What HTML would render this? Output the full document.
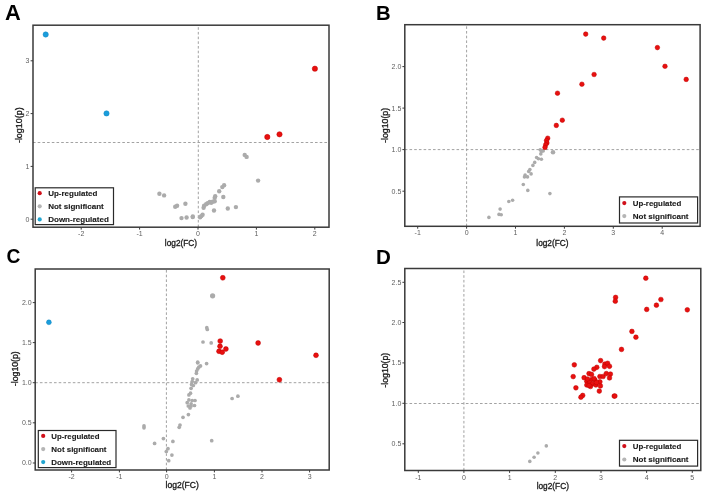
<!DOCTYPE html>
<html><head><meta charset="utf-8"><title>Volcano plots</title>
<style>
html,body{margin:0;padding:0;background:#fff;}
body{width:709px;height:496px;overflow:hidden;}
svg{display:block;filter:blur(0.4px);font-family:"Liberation Sans", sans-serif;}
</style></head>
<body>
<svg width="709" height="496" viewBox="0 0 709 496">
<rect width="709" height="496" fill="#fff"/>
<line x1="33" y1="142.5" x2="329" y2="142.5" stroke="#A2A2A2" stroke-width="1.0" stroke-dasharray="2.6 2.1"/>
<line x1="198.3" y1="227.2" x2="198.3" y2="25.2" stroke="#A2A2A2" stroke-width="1.0" stroke-dasharray="2.6 2.1"/>
<circle cx="159.4" cy="193.8" r="2.2" fill="#ABABAB"/>
<circle cx="164.1" cy="195.4" r="2.2" fill="#ABABAB"/>
<circle cx="175.2" cy="206.7" r="2.2" fill="#ABABAB"/>
<circle cx="177.1" cy="205.7" r="2.2" fill="#ABABAB"/>
<circle cx="185.4" cy="203.7" r="2.2" fill="#ABABAB"/>
<circle cx="181.5" cy="218.1" r="2.2" fill="#ABABAB"/>
<circle cx="186.6" cy="217.5" r="2.2" fill="#ABABAB"/>
<circle cx="192.7" cy="217.1" r="2.2" fill="#ABABAB"/>
<circle cx="192.8" cy="216.5" r="2.2" fill="#ABABAB"/>
<circle cx="200.1" cy="217.3" r="2.2" fill="#ABABAB"/>
<circle cx="201.3" cy="216.1" r="2.2" fill="#ABABAB"/>
<circle cx="202.6" cy="214.8" r="2.2" fill="#ABABAB"/>
<circle cx="203.6" cy="207.8" r="2.2" fill="#ABABAB"/>
<circle cx="204.1" cy="205.7" r="2.2" fill="#ABABAB"/>
<circle cx="206.1" cy="204.2" r="2.2" fill="#ABABAB"/>
<circle cx="207.6" cy="203.2" r="2.2" fill="#ABABAB"/>
<circle cx="209.7" cy="202" r="2.2" fill="#ABABAB"/>
<circle cx="211.2" cy="202.7" r="2.2" fill="#ABABAB"/>
<circle cx="212.7" cy="201.7" r="2.2" fill="#ABABAB"/>
<circle cx="214.7" cy="201.2" r="2.2" fill="#ABABAB"/>
<circle cx="215.2" cy="196.2" r="2.2" fill="#ABABAB"/>
<circle cx="214.7" cy="197.7" r="2.2" fill="#ABABAB"/>
<circle cx="214" cy="210.5" r="2.2" fill="#ABABAB"/>
<circle cx="219.2" cy="191.3" r="2.2" fill="#ABABAB"/>
<circle cx="222.3" cy="187.1" r="2.2" fill="#ABABAB"/>
<circle cx="224.1" cy="185.3" r="2.2" fill="#ABABAB"/>
<circle cx="223.3" cy="197" r="2.2" fill="#ABABAB"/>
<circle cx="227.8" cy="208.5" r="2.2" fill="#ABABAB"/>
<circle cx="235.9" cy="207.1" r="2.2" fill="#ABABAB"/>
<circle cx="244.7" cy="154.9" r="2.2" fill="#ABABAB"/>
<circle cx="246.6" cy="156.9" r="2.2" fill="#ABABAB"/>
<circle cx="258.1" cy="180.6" r="2.2" fill="#ABABAB"/>
<circle cx="314.9" cy="68.7" r="2.65" fill="#E8100F" stroke="#C00000" stroke-width="0.5"/>
<circle cx="267.3" cy="137" r="2.65" fill="#E8100F" stroke="#C00000" stroke-width="0.5"/>
<circle cx="279.5" cy="134.3" r="2.65" fill="#E8100F" stroke="#C00000" stroke-width="0.5"/>
<circle cx="45.7" cy="34.5" r="2.65" fill="#1A9DDC" stroke="#1588C0" stroke-width="0.5"/>
<circle cx="106.5" cy="113.4" r="2.65" fill="#1A9DDC" stroke="#1588C0" stroke-width="0.5"/>
<rect x="33" y="25.2" width="296" height="202.0" fill="none" stroke="#3A3A3A" stroke-width="1.5"/>
<line x1="81.2" y1="227.2" x2="81.2" y2="229.6" stroke="#3A3A3A" stroke-width="1"/>
<text x="81.2" y="235.6" font-size="7" fill="#5E5E5E" text-anchor="middle">-2</text>
<line x1="139.6" y1="227.2" x2="139.6" y2="229.6" stroke="#3A3A3A" stroke-width="1"/>
<text x="139.6" y="235.6" font-size="7" fill="#5E5E5E" text-anchor="middle">-1</text>
<line x1="198.0" y1="227.2" x2="198.0" y2="229.6" stroke="#3A3A3A" stroke-width="1"/>
<text x="198.0" y="235.6" font-size="7" fill="#5E5E5E" text-anchor="middle">0</text>
<line x1="256.4" y1="227.2" x2="256.4" y2="229.6" stroke="#3A3A3A" stroke-width="1"/>
<text x="256.4" y="235.6" font-size="7" fill="#5E5E5E" text-anchor="middle">1</text>
<line x1="314.8" y1="227.2" x2="314.8" y2="229.6" stroke="#3A3A3A" stroke-width="1"/>
<text x="314.8" y="235.6" font-size="7" fill="#5E5E5E" text-anchor="middle">2</text>
<line x1="30.6" y1="219.2" x2="33" y2="219.2" stroke="#3A3A3A" stroke-width="1"/>
<text x="29.5" y="221.6" font-size="7" fill="#5E5E5E" text-anchor="end">0</text>
<line x1="30.6" y1="166.4" x2="33" y2="166.4" stroke="#3A3A3A" stroke-width="1"/>
<text x="29.5" y="168.8" font-size="7" fill="#5E5E5E" text-anchor="end">1</text>
<line x1="30.6" y1="113.6" x2="33" y2="113.6" stroke="#3A3A3A" stroke-width="1"/>
<text x="29.5" y="116.0" font-size="7" fill="#5E5E5E" text-anchor="end">2</text>
<line x1="30.6" y1="60.8" x2="33" y2="60.8" stroke="#3A3A3A" stroke-width="1"/>
<text x="29.5" y="63.199999999999996" font-size="7" fill="#5E5E5E" text-anchor="end">3</text>
<text x="181.0" y="245.6" font-size="8.6" fill="#1A1A1A" stroke="#1A1A1A" stroke-width="0.32" text-anchor="middle" textLength="32.3" lengthAdjust="spacingAndGlyphs">log2(FC)</text>
<text transform="translate(22.2,125.2) rotate(-90)" x="0" y="0" font-size="8.6" fill="#1A1A1A" stroke="#1A1A1A" stroke-width="0.32" text-anchor="middle" textLength="35.8" lengthAdjust="spacingAndGlyphs">-log10(p)</text>
<text transform="translate(4.95,19.7) scale(1,1)" x="0" y="0" font-size="21.8" font-weight="bold" fill="#000">A</text>
<rect x="35.2" y="187.8" width="78.3" height="36.79999999999998" fill="#fff" stroke="#2A2A2A" stroke-width="1.2"/>
<circle cx="39.7" cy="193.2" r="2.1" fill="#D0101A"/>
<text x="48.2" y="195.79999999999998" font-size="8.0" font-weight="bold" fill="#1A1A1A" stroke="#1A1A1A" stroke-width="0.12" textLength="49.2" lengthAdjust="spacingAndGlyphs">Up-regulated</text>
<circle cx="39.7" cy="206.3" r="2.1" fill="#B5B5B5"/>
<text x="48.2" y="208.9" font-size="8.0" font-weight="bold" fill="#1A1A1A" stroke="#1A1A1A" stroke-width="0.12" textLength="55.6" lengthAdjust="spacingAndGlyphs">Not significant</text>
<circle cx="39.7" cy="219.4" r="2.1" fill="#22A5D0"/>
<text x="48.2" y="222.0" font-size="8.0" font-weight="bold" fill="#1A1A1A" stroke="#1A1A1A" stroke-width="0.12" textLength="60.6" lengthAdjust="spacingAndGlyphs">Down-regulated</text>
<line x1="404.8" y1="149.6" x2="700.1" y2="149.6" stroke="#A2A2A2" stroke-width="1.0" stroke-dasharray="2.6 2.1"/>
<line x1="466.6" y1="226.3" x2="466.6" y2="24.7" stroke="#A2A2A2" stroke-width="1.0" stroke-dasharray="2.6 2.1"/>
<circle cx="540.2" cy="149.7" r="1.8" fill="#ABABAB"/>
<circle cx="541.4" cy="151.5" r="1.8" fill="#ABABAB"/>
<circle cx="543.2" cy="150.9" r="1.8" fill="#ABABAB"/>
<circle cx="540.8" cy="153.9" r="1.8" fill="#ABABAB"/>
<circle cx="536.6" cy="157.5" r="1.8" fill="#ABABAB"/>
<circle cx="538.4" cy="158.7" r="1.8" fill="#ABABAB"/>
<circle cx="541.4" cy="159.3" r="1.8" fill="#ABABAB"/>
<circle cx="534.7" cy="162.4" r="1.8" fill="#ABABAB"/>
<circle cx="532.9" cy="165.4" r="1.8" fill="#ABABAB"/>
<circle cx="529.9" cy="169.6" r="1.8" fill="#ABABAB"/>
<circle cx="528.7" cy="171.4" r="1.8" fill="#ABABAB"/>
<circle cx="531.1" cy="173.9" r="1.8" fill="#ABABAB"/>
<circle cx="525.1" cy="175.1" r="1.8" fill="#ABABAB"/>
<circle cx="524.5" cy="176.9" r="1.8" fill="#ABABAB"/>
<circle cx="527.5" cy="176.9" r="1.8" fill="#ABABAB"/>
<circle cx="523.3" cy="184.5" r="1.8" fill="#ABABAB"/>
<circle cx="527.8" cy="190.4" r="1.8" fill="#ABABAB"/>
<circle cx="549.9" cy="193.6" r="1.8" fill="#ABABAB"/>
<circle cx="512.6" cy="200.2" r="1.8" fill="#ABABAB"/>
<circle cx="508.8" cy="201.5" r="1.8" fill="#ABABAB"/>
<circle cx="500.1" cy="209.1" r="1.8" fill="#ABABAB"/>
<circle cx="499" cy="214.4" r="1.8" fill="#ABABAB"/>
<circle cx="501.2" cy="214.8" r="1.8" fill="#ABABAB"/>
<circle cx="488.9" cy="217.4" r="1.8" fill="#ABABAB"/>
<circle cx="553.0" cy="152.2" r="2.3" fill="#ABABAB"/>
<circle cx="585.7" cy="34.1" r="2.30" fill="#E8100F" stroke="#C00000" stroke-width="0.5"/>
<circle cx="603.7" cy="38.1" r="2.30" fill="#E8100F" stroke="#C00000" stroke-width="0.5"/>
<circle cx="657.4" cy="47.6" r="2.30" fill="#E8100F" stroke="#C00000" stroke-width="0.5"/>
<circle cx="665" cy="66.3" r="2.30" fill="#E8100F" stroke="#C00000" stroke-width="0.5"/>
<circle cx="686.2" cy="79.4" r="2.30" fill="#E8100F" stroke="#C00000" stroke-width="0.5"/>
<circle cx="594.1" cy="74.5" r="2.30" fill="#E8100F" stroke="#C00000" stroke-width="0.5"/>
<circle cx="581.9" cy="84.2" r="2.30" fill="#E8100F" stroke="#C00000" stroke-width="0.5"/>
<circle cx="557.5" cy="93.2" r="2.30" fill="#E8100F" stroke="#C00000" stroke-width="0.5"/>
<circle cx="562.3" cy="120.2" r="2.30" fill="#E8100F" stroke="#C00000" stroke-width="0.5"/>
<circle cx="556.3" cy="125.4" r="2.30" fill="#E8100F" stroke="#C00000" stroke-width="0.5"/>
<circle cx="547.7" cy="138.2" r="2.30" fill="#E8100F" stroke="#C00000" stroke-width="0.5"/>
<circle cx="546.5" cy="140.6" r="2.30" fill="#E8100F" stroke="#C00000" stroke-width="0.5"/>
<circle cx="546.9" cy="142.9" r="2.30" fill="#E8100F" stroke="#C00000" stroke-width="0.5"/>
<circle cx="545.7" cy="144.7" r="2.30" fill="#E8100F" stroke="#C00000" stroke-width="0.5"/>
<circle cx="545" cy="147.4" r="2.30" fill="#E8100F" stroke="#C00000" stroke-width="0.5"/>
<rect x="404.8" y="24.7" width="295.3" height="201.60000000000002" fill="none" stroke="#3A3A3A" stroke-width="1.5"/>
<line x1="417.7" y1="226.3" x2="417.7" y2="228.70000000000002" stroke="#3A3A3A" stroke-width="1"/>
<text x="417.7" y="235.4" font-size="7" fill="#5E5E5E" text-anchor="middle">-1</text>
<line x1="466.6" y1="226.3" x2="466.6" y2="228.70000000000002" stroke="#3A3A3A" stroke-width="1"/>
<text x="466.6" y="235.4" font-size="7" fill="#5E5E5E" text-anchor="middle">0</text>
<line x1="515.5" y1="226.3" x2="515.5" y2="228.70000000000002" stroke="#3A3A3A" stroke-width="1"/>
<text x="515.5" y="235.4" font-size="7" fill="#5E5E5E" text-anchor="middle">1</text>
<line x1="564.4" y1="226.3" x2="564.4" y2="228.70000000000002" stroke="#3A3A3A" stroke-width="1"/>
<text x="564.4" y="235.4" font-size="7" fill="#5E5E5E" text-anchor="middle">2</text>
<line x1="613.3" y1="226.3" x2="613.3" y2="228.70000000000002" stroke="#3A3A3A" stroke-width="1"/>
<text x="613.3" y="235.4" font-size="7" fill="#5E5E5E" text-anchor="middle">3</text>
<line x1="662.2" y1="226.3" x2="662.2" y2="228.70000000000002" stroke="#3A3A3A" stroke-width="1"/>
<text x="662.2" y="235.4" font-size="7" fill="#5E5E5E" text-anchor="middle">4</text>
<line x1="402.40000000000003" y1="191.2" x2="404.8" y2="191.2" stroke="#3A3A3A" stroke-width="1"/>
<text x="401.3" y="193.6" font-size="7" fill="#5E5E5E" text-anchor="end">0.5</text>
<line x1="402.40000000000003" y1="149.6" x2="404.8" y2="149.6" stroke="#3A3A3A" stroke-width="1"/>
<text x="401.3" y="152.0" font-size="7" fill="#5E5E5E" text-anchor="end">1.0</text>
<line x1="402.40000000000003" y1="108.1" x2="404.8" y2="108.1" stroke="#3A3A3A" stroke-width="1"/>
<text x="401.3" y="110.5" font-size="7" fill="#5E5E5E" text-anchor="end">1.5</text>
<line x1="402.40000000000003" y1="66.6" x2="404.8" y2="66.6" stroke="#3A3A3A" stroke-width="1"/>
<text x="401.3" y="69.0" font-size="7" fill="#5E5E5E" text-anchor="end">2.0</text>
<text x="552.45" y="245.6" font-size="8.6" fill="#1A1A1A" stroke="#1A1A1A" stroke-width="0.32" text-anchor="middle" textLength="32.3" lengthAdjust="spacingAndGlyphs">log2(FC)</text>
<text transform="translate(388.2,125.4) rotate(-90)" x="0" y="0" font-size="8.6" fill="#1A1A1A" stroke="#1A1A1A" stroke-width="0.32" text-anchor="middle" textLength="35" lengthAdjust="spacingAndGlyphs">-log10(p)</text>
<text transform="translate(376.1,20.1) scale(0.97,1)" x="0" y="0" font-size="20.9" font-weight="bold" fill="#000">B</text>
<rect x="619.5" y="196.9" width="78.10000000000002" height="26.099999999999994" fill="#fff" stroke="#2A2A2A" stroke-width="1.2"/>
<circle cx="624.3" cy="203.1" r="2.1" fill="#D0101A"/>
<text x="632.7" y="205.7" font-size="8.0" font-weight="bold" fill="#1A1A1A" stroke="#1A1A1A" stroke-width="0.12" textLength="48.6" lengthAdjust="spacingAndGlyphs">Up-regulated</text>
<circle cx="624.3" cy="216.1" r="2.1" fill="#B5B5B5"/>
<text x="632.7" y="218.7" font-size="8.0" font-weight="bold" fill="#1A1A1A" stroke="#1A1A1A" stroke-width="0.12" textLength="55.8" lengthAdjust="spacingAndGlyphs">Not significant</text>
<line x1="35.2" y1="382.7" x2="329.2" y2="382.7" stroke="#A2A2A2" stroke-width="1.0" stroke-dasharray="2.6 2.1"/>
<line x1="166.4" y1="470" x2="166.4" y2="269" stroke="#A2A2A2" stroke-width="1.0" stroke-dasharray="2.6 2.1"/>
<circle cx="206.8" cy="327.7" r="1.85" fill="#ABABAB"/>
<circle cx="207.3" cy="329.5" r="1.85" fill="#ABABAB"/>
<circle cx="203" cy="342" r="1.85" fill="#ABABAB"/>
<circle cx="211.2" cy="342.9" r="1.85" fill="#ABABAB"/>
<circle cx="197.7" cy="362.2" r="1.85" fill="#ABABAB"/>
<circle cx="206.6" cy="363.6" r="1.85" fill="#ABABAB"/>
<circle cx="197.7" cy="362.8" r="1.85" fill="#ABABAB"/>
<circle cx="200.5" cy="365.9" r="1.85" fill="#ABABAB"/>
<circle cx="198.8" cy="367.2" r="1.85" fill="#ABABAB"/>
<circle cx="197.7" cy="368.9" r="1.85" fill="#ABABAB"/>
<circle cx="196.6" cy="371.1" r="1.85" fill="#ABABAB"/>
<circle cx="196.4" cy="373.3" r="1.85" fill="#ABABAB"/>
<circle cx="192.7" cy="378.8" r="1.85" fill="#ABABAB"/>
<circle cx="197.2" cy="379.9" r="1.85" fill="#ABABAB"/>
<circle cx="192.2" cy="381.6" r="1.85" fill="#ABABAB"/>
<circle cx="195.5" cy="382.7" r="1.85" fill="#ABABAB"/>
<circle cx="191.6" cy="384.4" r="1.85" fill="#ABABAB"/>
<circle cx="193.3" cy="385.5" r="1.85" fill="#ABABAB"/>
<circle cx="191.1" cy="388.3" r="1.85" fill="#ABABAB"/>
<circle cx="190.5" cy="393.2" r="1.85" fill="#ABABAB"/>
<circle cx="188.9" cy="394.9" r="1.85" fill="#ABABAB"/>
<circle cx="188.9" cy="399.9" r="1.85" fill="#ABABAB"/>
<circle cx="192.2" cy="400.5" r="1.85" fill="#ABABAB"/>
<circle cx="195" cy="400.5" r="1.85" fill="#ABABAB"/>
<circle cx="187.2" cy="402.7" r="1.85" fill="#ABABAB"/>
<circle cx="191.1" cy="403.8" r="1.85" fill="#ABABAB"/>
<circle cx="188.3" cy="406" r="1.85" fill="#ABABAB"/>
<circle cx="191.1" cy="406" r="1.85" fill="#ABABAB"/>
<circle cx="194.5" cy="405.5" r="1.85" fill="#ABABAB"/>
<circle cx="190" cy="408" r="1.85" fill="#ABABAB"/>
<circle cx="232.1" cy="398.5" r="1.85" fill="#ABABAB"/>
<circle cx="237.9" cy="396.2" r="1.85" fill="#ABABAB"/>
<circle cx="188.4" cy="414.6" r="1.85" fill="#ABABAB"/>
<circle cx="183" cy="417.3" r="1.85" fill="#ABABAB"/>
<circle cx="180" cy="425" r="1.85" fill="#ABABAB"/>
<circle cx="179.2" cy="427.3" r="1.85" fill="#ABABAB"/>
<circle cx="144" cy="425.9" r="1.85" fill="#ABABAB"/>
<circle cx="144" cy="427.8" r="1.85" fill="#ABABAB"/>
<circle cx="163.4" cy="438.6" r="1.85" fill="#ABABAB"/>
<circle cx="154.6" cy="443.4" r="1.85" fill="#ABABAB"/>
<circle cx="172.9" cy="441.4" r="1.85" fill="#ABABAB"/>
<circle cx="211.7" cy="440.7" r="1.85" fill="#ABABAB"/>
<circle cx="168" cy="448.7" r="1.85" fill="#ABABAB"/>
<circle cx="166.3" cy="451.5" r="1.85" fill="#ABABAB"/>
<circle cx="171.9" cy="455.1" r="1.85" fill="#ABABAB"/>
<circle cx="168.7" cy="460.7" r="1.85" fill="#ABABAB"/>
<circle cx="212.6" cy="295.8" r="2.6" fill="#ABABAB"/>
<circle cx="279.4" cy="379.8" r="2.45" fill="#E8100F" stroke="#C00000" stroke-width="0.5"/>
<circle cx="222.8" cy="277.8" r="2.45" fill="#E8100F" stroke="#C00000" stroke-width="0.5"/>
<circle cx="220.2" cy="341.1" r="2.45" fill="#E8100F" stroke="#C00000" stroke-width="0.5"/>
<circle cx="220" cy="346.3" r="2.45" fill="#E8100F" stroke="#C00000" stroke-width="0.5"/>
<circle cx="219" cy="351.3" r="2.45" fill="#E8100F" stroke="#C00000" stroke-width="0.5"/>
<circle cx="222.2" cy="352.2" r="2.45" fill="#E8100F" stroke="#C00000" stroke-width="0.5"/>
<circle cx="225.9" cy="349" r="2.45" fill="#E8100F" stroke="#C00000" stroke-width="0.5"/>
<circle cx="258.1" cy="343" r="2.45" fill="#E8100F" stroke="#C00000" stroke-width="0.5"/>
<circle cx="316" cy="355.3" r="2.45" fill="#E8100F" stroke="#C00000" stroke-width="0.5"/>
<circle cx="48.9" cy="322.3" r="2.45" fill="#1A9DDC" stroke="#1588C0" stroke-width="0.5"/>
<rect x="35.2" y="269" width="294.0" height="201" fill="none" stroke="#3A3A3A" stroke-width="1.5"/>
<line x1="71.6" y1="470" x2="71.6" y2="472.4" stroke="#3A3A3A" stroke-width="1"/>
<text x="71.6" y="479.1" font-size="7" fill="#5E5E5E" text-anchor="middle">-2</text>
<line x1="119.4" y1="470" x2="119.4" y2="472.4" stroke="#3A3A3A" stroke-width="1"/>
<text x="119.4" y="479.1" font-size="7" fill="#5E5E5E" text-anchor="middle">-1</text>
<line x1="166.6" y1="470" x2="166.6" y2="472.4" stroke="#3A3A3A" stroke-width="1"/>
<text x="166.6" y="479.1" font-size="7" fill="#5E5E5E" text-anchor="middle">0</text>
<line x1="214.4" y1="470" x2="214.4" y2="472.4" stroke="#3A3A3A" stroke-width="1"/>
<text x="214.4" y="479.1" font-size="7" fill="#5E5E5E" text-anchor="middle">1</text>
<line x1="262" y1="470" x2="262" y2="472.4" stroke="#3A3A3A" stroke-width="1"/>
<text x="262" y="479.1" font-size="7" fill="#5E5E5E" text-anchor="middle">2</text>
<line x1="309.6" y1="470" x2="309.6" y2="472.4" stroke="#3A3A3A" stroke-width="1"/>
<text x="309.6" y="479.1" font-size="7" fill="#5E5E5E" text-anchor="middle">3</text>
<line x1="32.800000000000004" y1="463" x2="35.2" y2="463" stroke="#3A3A3A" stroke-width="1"/>
<text x="31.700000000000003" y="465.4" font-size="7" fill="#5E5E5E" text-anchor="end">0.0</text>
<line x1="32.800000000000004" y1="422.8" x2="35.2" y2="422.8" stroke="#3A3A3A" stroke-width="1"/>
<text x="31.700000000000003" y="425.2" font-size="7" fill="#5E5E5E" text-anchor="end">0.5</text>
<line x1="32.800000000000004" y1="382.7" x2="35.2" y2="382.7" stroke="#3A3A3A" stroke-width="1"/>
<text x="31.700000000000003" y="385.09999999999997" font-size="7" fill="#5E5E5E" text-anchor="end">1.0</text>
<line x1="32.800000000000004" y1="342.6" x2="35.2" y2="342.6" stroke="#3A3A3A" stroke-width="1"/>
<text x="31.700000000000003" y="345.0" font-size="7" fill="#5E5E5E" text-anchor="end">1.5</text>
<line x1="32.800000000000004" y1="302.6" x2="35.2" y2="302.6" stroke="#3A3A3A" stroke-width="1"/>
<text x="31.700000000000003" y="305.0" font-size="7" fill="#5E5E5E" text-anchor="end">2.0</text>
<text x="182.2" y="488.0" font-size="8.6" fill="#1A1A1A" stroke="#1A1A1A" stroke-width="0.32" text-anchor="middle" textLength="33.2" lengthAdjust="spacingAndGlyphs">log2(FC)</text>
<text transform="translate(18.0,368.7) rotate(-90)" x="0" y="0" font-size="8.6" fill="#1A1A1A" stroke="#1A1A1A" stroke-width="0.32" text-anchor="middle" textLength="35" lengthAdjust="spacingAndGlyphs">-log10(p)</text>
<text transform="translate(6.4,263.1) scale(0.92,1)" x="0" y="0" font-size="20.9" font-weight="bold" fill="#000">C</text>
<rect x="38.3" y="430.5" width="77.7" height="37.10000000000002" fill="#fff" stroke="#2A2A2A" stroke-width="1.2"/>
<circle cx="43.2" cy="435.9" r="2.1" fill="#D0101A"/>
<text x="51.3" y="438.5" font-size="8.0" font-weight="bold" fill="#1A1A1A" stroke="#1A1A1A" stroke-width="0.12" textLength="48.2" lengthAdjust="spacingAndGlyphs">Up-regulated</text>
<circle cx="43.2" cy="449.1" r="2.1" fill="#B5B5B5"/>
<text x="51.3" y="451.70000000000005" font-size="8.0" font-weight="bold" fill="#1A1A1A" stroke="#1A1A1A" stroke-width="0.12" textLength="55.2" lengthAdjust="spacingAndGlyphs">Not significant</text>
<circle cx="43.2" cy="462.1" r="2.1" fill="#22A5D0"/>
<text x="51.3" y="464.70000000000005" font-size="8.0" font-weight="bold" fill="#1A1A1A" stroke="#1A1A1A" stroke-width="0.12" textLength="59.9" lengthAdjust="spacingAndGlyphs">Down-regulated</text>
<line x1="404.8" y1="403.5" x2="700.8" y2="403.5" stroke="#A2A2A2" stroke-width="1.0" stroke-dasharray="2.6 2.1"/>
<line x1="463.9" y1="470.5" x2="463.9" y2="268.5" stroke="#A2A2A2" stroke-width="1.0" stroke-dasharray="2.6 2.1"/>
<circle cx="529.8" cy="461.4" r="1.8" fill="#ABABAB"/>
<circle cx="534.1" cy="457.3" r="1.8" fill="#ABABAB"/>
<circle cx="537.9" cy="453" r="1.8" fill="#ABABAB"/>
<circle cx="546.3" cy="445.9" r="1.8" fill="#ABABAB"/>
<circle cx="574.3" cy="364.8" r="2.35" fill="#E8100F" stroke="#C00000" stroke-width="0.5"/>
<circle cx="600.6" cy="360.6" r="2.35" fill="#E8100F" stroke="#C00000" stroke-width="0.5"/>
<circle cx="604.9" cy="364.1" r="2.35" fill="#E8100F" stroke="#C00000" stroke-width="0.5"/>
<circle cx="607.6" cy="363.3" r="2.35" fill="#E8100F" stroke="#C00000" stroke-width="0.5"/>
<circle cx="609.5" cy="366.3" r="2.35" fill="#E8100F" stroke="#C00000" stroke-width="0.5"/>
<circle cx="604.5" cy="366.6" r="2.35" fill="#E8100F" stroke="#C00000" stroke-width="0.5"/>
<circle cx="596.8" cy="367.3" r="2.35" fill="#E8100F" stroke="#C00000" stroke-width="0.5"/>
<circle cx="593.9" cy="369.1" r="2.35" fill="#E8100F" stroke="#C00000" stroke-width="0.5"/>
<circle cx="589" cy="373.6" r="2.35" fill="#E8100F" stroke="#C00000" stroke-width="0.5"/>
<circle cx="573.2" cy="376.6" r="2.35" fill="#E8100F" stroke="#C00000" stroke-width="0.5"/>
<circle cx="584.1" cy="377.7" r="2.35" fill="#E8100F" stroke="#C00000" stroke-width="0.5"/>
<circle cx="599.9" cy="376.5" r="2.35" fill="#E8100F" stroke="#C00000" stroke-width="0.5"/>
<circle cx="603.1" cy="376.5" r="2.35" fill="#E8100F" stroke="#C00000" stroke-width="0.5"/>
<circle cx="606.3" cy="373.6" r="2.35" fill="#E8100F" stroke="#C00000" stroke-width="0.5"/>
<circle cx="610.4" cy="374.1" r="2.35" fill="#E8100F" stroke="#C00000" stroke-width="0.5"/>
<circle cx="609.5" cy="377.9" r="2.35" fill="#E8100F" stroke="#C00000" stroke-width="0.5"/>
<circle cx="591.8" cy="379.5" r="2.35" fill="#E8100F" stroke="#C00000" stroke-width="0.5"/>
<circle cx="595" cy="380" r="2.35" fill="#E8100F" stroke="#C00000" stroke-width="0.5"/>
<circle cx="586.8" cy="381.3" r="2.35" fill="#E8100F" stroke="#C00000" stroke-width="0.5"/>
<circle cx="589.5" cy="382.2" r="2.35" fill="#E8100F" stroke="#C00000" stroke-width="0.5"/>
<circle cx="599.9" cy="381.8" r="2.35" fill="#E8100F" stroke="#C00000" stroke-width="0.5"/>
<circle cx="586.8" cy="385" r="2.35" fill="#E8100F" stroke="#C00000" stroke-width="0.5"/>
<circle cx="592.2" cy="384" r="2.35" fill="#E8100F" stroke="#C00000" stroke-width="0.5"/>
<circle cx="595.9" cy="385" r="2.35" fill="#E8100F" stroke="#C00000" stroke-width="0.5"/>
<circle cx="600.4" cy="385.9" r="2.35" fill="#E8100F" stroke="#C00000" stroke-width="0.5"/>
<circle cx="575.9" cy="387.8" r="2.35" fill="#E8100F" stroke="#C00000" stroke-width="0.5"/>
<circle cx="599.3" cy="391.1" r="2.35" fill="#E8100F" stroke="#C00000" stroke-width="0.5"/>
<circle cx="582.7" cy="395.4" r="2.35" fill="#E8100F" stroke="#C00000" stroke-width="0.5"/>
<circle cx="580.9" cy="397.2" r="2.35" fill="#E8100F" stroke="#C00000" stroke-width="0.5"/>
<circle cx="591.5" cy="374.4" r="2.35" fill="#E8100F" stroke="#C00000" stroke-width="0.5"/>
<circle cx="596.5" cy="382.5" r="2.35" fill="#E8100F" stroke="#C00000" stroke-width="0.5"/>
<circle cx="594" cy="378.5" r="2.35" fill="#E8100F" stroke="#C00000" stroke-width="0.5"/>
<circle cx="587.5" cy="379" r="2.35" fill="#E8100F" stroke="#C00000" stroke-width="0.5"/>
<circle cx="590.5" cy="386.5" r="2.35" fill="#E8100F" stroke="#C00000" stroke-width="0.5"/>
<circle cx="589" cy="385.5" r="2.35" fill="#E8100F" stroke="#C00000" stroke-width="0.5"/>
<circle cx="614.2" cy="396.1" r="2.35" fill="#E8100F" stroke="#C00000" stroke-width="0.5"/>
<circle cx="614.9" cy="396.0" r="2.35" fill="#E8100F" stroke="#C00000" stroke-width="0.5"/>
<circle cx="645.8" cy="278.2" r="2.35" fill="#E8100F" stroke="#C00000" stroke-width="0.5"/>
<circle cx="615.6" cy="297.4" r="2.35" fill="#E8100F" stroke="#C00000" stroke-width="0.5"/>
<circle cx="615.3" cy="301.2" r="2.35" fill="#E8100F" stroke="#C00000" stroke-width="0.5"/>
<circle cx="660.9" cy="299.5" r="2.35" fill="#E8100F" stroke="#C00000" stroke-width="0.5"/>
<circle cx="656.4" cy="305.2" r="2.35" fill="#E8100F" stroke="#C00000" stroke-width="0.5"/>
<circle cx="646.7" cy="309.4" r="2.35" fill="#E8100F" stroke="#C00000" stroke-width="0.5"/>
<circle cx="687.3" cy="309.8" r="2.35" fill="#E8100F" stroke="#C00000" stroke-width="0.5"/>
<circle cx="631.9" cy="331.4" r="2.35" fill="#E8100F" stroke="#C00000" stroke-width="0.5"/>
<circle cx="635.9" cy="337.2" r="2.35" fill="#E8100F" stroke="#C00000" stroke-width="0.5"/>
<circle cx="621.5" cy="349.4" r="2.35" fill="#E8100F" stroke="#C00000" stroke-width="0.5"/>
<rect x="404.8" y="268.5" width="295.99999999999994" height="202.0" fill="none" stroke="#3A3A3A" stroke-width="1.5"/>
<line x1="418.3" y1="470.5" x2="418.3" y2="472.9" stroke="#3A3A3A" stroke-width="1"/>
<text x="418.3" y="479.6" font-size="7" fill="#5E5E5E" text-anchor="middle">-1</text>
<line x1="463.9" y1="470.5" x2="463.9" y2="472.9" stroke="#3A3A3A" stroke-width="1"/>
<text x="463.9" y="479.6" font-size="7" fill="#5E5E5E" text-anchor="middle">0</text>
<line x1="509.6" y1="470.5" x2="509.6" y2="472.9" stroke="#3A3A3A" stroke-width="1"/>
<text x="509.6" y="479.6" font-size="7" fill="#5E5E5E" text-anchor="middle">1</text>
<line x1="555.3" y1="470.5" x2="555.3" y2="472.9" stroke="#3A3A3A" stroke-width="1"/>
<text x="555.3" y="479.6" font-size="7" fill="#5E5E5E" text-anchor="middle">2</text>
<line x1="601" y1="470.5" x2="601" y2="472.9" stroke="#3A3A3A" stroke-width="1"/>
<text x="601" y="479.6" font-size="7" fill="#5E5E5E" text-anchor="middle">3</text>
<line x1="646.6" y1="470.5" x2="646.6" y2="472.9" stroke="#3A3A3A" stroke-width="1"/>
<text x="646.6" y="479.6" font-size="7" fill="#5E5E5E" text-anchor="middle">4</text>
<line x1="692.3" y1="470.5" x2="692.3" y2="472.9" stroke="#3A3A3A" stroke-width="1"/>
<text x="692.3" y="479.6" font-size="7" fill="#5E5E5E" text-anchor="middle">5</text>
<line x1="402.40000000000003" y1="443.8" x2="404.8" y2="443.8" stroke="#3A3A3A" stroke-width="1"/>
<text x="401.3" y="446.2" font-size="7" fill="#5E5E5E" text-anchor="end">0.5</text>
<line x1="402.40000000000003" y1="403.3" x2="404.8" y2="403.3" stroke="#3A3A3A" stroke-width="1"/>
<text x="401.3" y="405.7" font-size="7" fill="#5E5E5E" text-anchor="end">1.0</text>
<line x1="402.40000000000003" y1="362.9" x2="404.8" y2="362.9" stroke="#3A3A3A" stroke-width="1"/>
<text x="401.3" y="365.29999999999995" font-size="7" fill="#5E5E5E" text-anchor="end">1.5</text>
<line x1="402.40000000000003" y1="322.5" x2="404.8" y2="322.5" stroke="#3A3A3A" stroke-width="1"/>
<text x="401.3" y="324.9" font-size="7" fill="#5E5E5E" text-anchor="end">2.0</text>
<line x1="402.40000000000003" y1="282.3" x2="404.8" y2="282.3" stroke="#3A3A3A" stroke-width="1"/>
<text x="401.3" y="284.7" font-size="7" fill="#5E5E5E" text-anchor="end">2.5</text>
<text x="552.8" y="488.6" font-size="8.6" fill="#1A1A1A" stroke="#1A1A1A" stroke-width="0.32" text-anchor="middle" textLength="32.3" lengthAdjust="spacingAndGlyphs">log2(FC)</text>
<text transform="translate(387.5,370.2) rotate(-90)" x="0" y="0" font-size="8.6" fill="#1A1A1A" stroke="#1A1A1A" stroke-width="0.32" text-anchor="middle" textLength="35" lengthAdjust="spacingAndGlyphs">-log10(p)</text>
<text transform="translate(375.9,263.5) scale(0.98,1)" x="0" y="0" font-size="21.0" font-weight="bold" fill="#000">D</text>
<rect x="619.5" y="440.3" width="78.10000000000002" height="25.80000000000001" fill="#fff" stroke="#2A2A2A" stroke-width="1.2"/>
<circle cx="624.3" cy="446.1" r="2.1" fill="#D0101A"/>
<text x="632.7" y="448.70000000000005" font-size="8.0" font-weight="bold" fill="#1A1A1A" stroke="#1A1A1A" stroke-width="0.12" textLength="48.6" lengthAdjust="spacingAndGlyphs">Up-regulated</text>
<circle cx="624.3" cy="459.5" r="2.1" fill="#B5B5B5"/>
<text x="632.7" y="462.1" font-size="8.0" font-weight="bold" fill="#1A1A1A" stroke="#1A1A1A" stroke-width="0.12" textLength="55.8" lengthAdjust="spacingAndGlyphs">Not significant</text>
</svg>
</body></html>
